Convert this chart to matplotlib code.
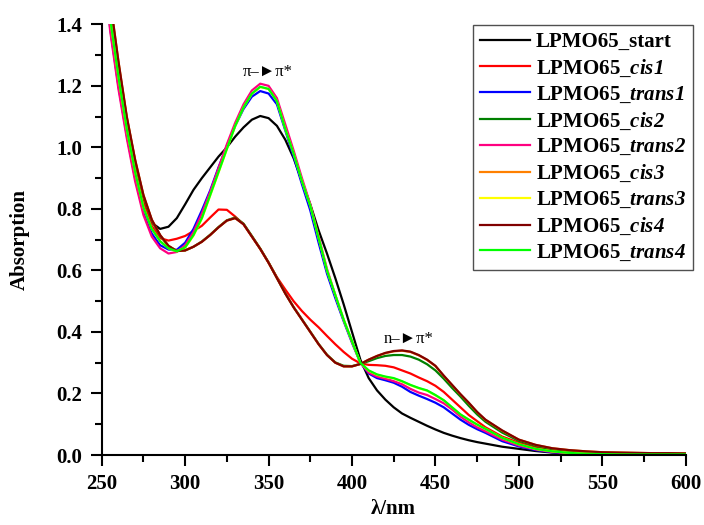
import matplotlib
matplotlib.use("Agg")
import matplotlib.pyplot as plt
from matplotlib.ticker import MultipleLocator

plt.rcParams['font.family'] = ['Liberation Serif', 'DejaVu Serif', 'DejaVu Sans']
plt.rcParams['mathtext.fontset'] = 'custom'
plt.rcParams['mathtext.it'] = 'Liberation Serif:italic:bold'
plt.rcParams['mathtext.rm'] = 'Liberation Serif:italic:bold'

# ---------------- data ----------------
wavelength = [250, 255, 260, 265, 270, 275, 280, 285, 290, 295, 300, 305, 310, 315, 320,
              325, 330, 335, 340, 345, 350, 355, 360, 365, 370, 375, 380, 385, 390, 395,
              400, 405, 410, 415, 420, 425, 430, 435, 440, 445, 450, 455, 460, 465, 470,
              475, 480, 490, 500, 510, 520, 530, 540, 550, 560, 570, 580, 590, 600]

start = [1.73, 1.44, 1.24, 1.07, 0.93, 0.82, 0.755, 0.735, 0.742, 0.77, 0.815, 0.862, 0.90, 0.935, 0.97,
         1.00, 1.035, 1.065, 1.09, 1.102, 1.095, 1.07, 1.025, 0.965, 0.89, 0.815, 0.73, 0.655, 0.575, 0.49,
         0.40, 0.31, 0.25, 0.21, 0.18, 0.155, 0.135, 0.121, 0.108, 0.095, 0.083, 0.072, 0.063, 0.055, 0.048,
         0.042, 0.037, 0.027, 0.020, 0.013, 0.008, 0.004, 0.002, 0.001, 0.001, 0.001, 0.001, 0.001, 0.001]

cis1 = [1.74, 1.45, 1.25, 1.08, 0.935, 0.82, 0.745, 0.705, 0.697, 0.703, 0.712, 0.728, 0.745, 0.772, 0.798,
        0.797, 0.775, 0.75, 0.71, 0.67, 0.625, 0.578, 0.538, 0.50, 0.468, 0.44, 0.415, 0.387, 0.36, 0.335,
        0.313, 0.298, 0.293, 0.292, 0.29, 0.285, 0.275, 0.265, 0.252, 0.24, 0.225, 0.205, 0.18, 0.155, 0.13,
        0.11, 0.09, 0.06, 0.04, 0.025, 0.015, 0.009, 0.006, 0.004, 0.003, 0.002, 0.002, 0.002, 0.002]

trans1 = [1.69, 1.39, 1.20, 1.04, 0.90, 0.79, 0.72, 0.682, 0.668, 0.667, 0.69, 0.735, 0.795, 0.86, 0.935,
          1.005, 1.07, 1.125, 1.165, 1.183, 1.175, 1.14, 1.055, 0.97, 0.88, 0.795, 0.69, 0.59, 0.51, 0.435,
          0.365, 0.30, 0.265, 0.25, 0.243, 0.235, 0.222, 0.205, 0.193, 0.182, 0.17, 0.155, 0.135, 0.115, 0.098,
          0.084, 0.072, 0.045, 0.028, 0.016, 0.009, 0.005, 0.003, 0.002, 0.001, 0.001, 0.001, 0.001, 0.001]

cis2 = [1.77, 1.47, 1.27, 1.095, 0.955, 0.84, 0.762, 0.713, 0.679, 0.663, 0.665, 0.677, 0.694, 0.716, 0.741,
        0.763, 0.772, 0.752, 0.712, 0.671, 0.626, 0.576, 0.526, 0.481, 0.441, 0.401, 0.361, 0.326, 0.301, 0.29,
        0.289, 0.296, 0.305, 0.315, 0.322, 0.325, 0.325, 0.32, 0.31, 0.295, 0.275, 0.248, 0.218, 0.19, 0.16,
        0.132, 0.108, 0.073, 0.046, 0.030, 0.019, 0.013, 0.009, 0.007, 0.006, 0.006, 0.005, 0.005, 0.005]

trans2 = [1.68, 1.38, 1.19, 1.03, 0.89, 0.78, 0.71, 0.672, 0.655, 0.66, 0.682, 0.725, 0.785, 0.855, 0.932,
          1.01, 1.08, 1.14, 1.185, 1.207, 1.20, 1.16, 1.075, 0.99, 0.90, 0.815, 0.71, 0.605, 0.52, 0.44,
          0.368, 0.30, 0.268, 0.255, 0.248, 0.24, 0.23, 0.215, 0.203, 0.195, 0.182, 0.168, 0.148, 0.125, 0.106,
          0.09, 0.077, 0.05, 0.031, 0.018, 0.010, 0.006, 0.004, 0.003, 0.002, 0.002, 0.002, 0.002, 0.002]

cis3 = [1.78, 1.48, 1.28, 1.10, 0.96, 0.845, 0.765, 0.715, 0.68, 0.663, 0.665, 0.677, 0.693, 0.715, 0.74,
        0.762, 0.77, 0.75, 0.71, 0.67, 0.625, 0.575, 0.525, 0.48, 0.44, 0.40, 0.36, 0.325, 0.30, 0.288,
        0.288, 0.296, 0.31, 0.322, 0.331, 0.337, 0.339, 0.335, 0.324, 0.309, 0.289, 0.257, 0.227, 0.197, 0.169,
        0.139, 0.114, 0.079, 0.05, 0.033, 0.022, 0.016, 0.012, 0.009, 0.008, 0.007, 0.006, 0.006, 0.005]

trans3 = [1.72, 1.42, 1.23, 1.06, 0.92, 0.805, 0.735, 0.695, 0.672, 0.662, 0.674, 0.713, 0.768, 0.843, 0.918,
          0.994, 1.069, 1.13, 1.174, 1.196, 1.19, 1.15, 1.06, 0.98, 0.89, 0.81, 0.705, 0.60, 0.52, 0.44,
          0.37, 0.30, 0.274, 0.261, 0.254, 0.249, 0.239, 0.227, 0.217, 0.209, 0.194, 0.178, 0.155, 0.132, 0.115,
          0.099, 0.085, 0.056, 0.035, 0.020, 0.012, 0.007, 0.004, 0.003, 0.002, 0.002, 0.002, 0.002, 0.002]

cis4 = [1.78, 1.48, 1.28, 1.10, 0.96, 0.845, 0.765, 0.715, 0.68, 0.663, 0.665, 0.677, 0.693, 0.715, 0.74,
        0.762, 0.77, 0.75, 0.71, 0.67, 0.625, 0.575, 0.525, 0.48, 0.44, 0.40, 0.36, 0.325, 0.30, 0.288,
        0.288, 0.296, 0.31, 0.322, 0.332, 0.338, 0.34, 0.336, 0.325, 0.31, 0.29, 0.258, 0.228, 0.198, 0.17,
        0.14, 0.115, 0.08, 0.05, 0.033, 0.022, 0.016, 0.012, 0.009, 0.008, 0.007, 0.006, 0.006, 0.005]

trans4 = [1.72, 1.42, 1.23, 1.06, 0.92, 0.805, 0.735, 0.695, 0.672, 0.662, 0.675, 0.715, 0.77, 0.845, 0.92,
          0.995, 1.07, 1.13, 1.175, 1.197, 1.19, 1.15, 1.06, 0.98, 0.89, 0.81, 0.705, 0.60, 0.52, 0.44,
          0.37, 0.30, 0.275, 0.262, 0.255, 0.25, 0.24, 0.228, 0.218, 0.21, 0.195, 0.178, 0.155, 0.132, 0.115,
          0.099, 0.085, 0.056, 0.035, 0.020, 0.012, 0.007, 0.004, 0.003, 0.002, 0.002, 0.002, 0.002, 0.002]

series_labels = ['LPMO65_start', 'LPMO65_$cis1$', 'LPMO65_$trans1$', 'LPMO65_$cis2$',
                 'LPMO65_$trans2$', 'LPMO65_$cis3$', 'LPMO65_$trans3$', 'LPMO65_$cis4$',
                 'LPMO65_$trans4$']
series_values = [start, cis1, trans1, cis2, trans2, cis3, trans3, cis4, trans4]
series_colors = ['#000000', '#ff0000', '#0000ff', '#008000', '#ff0080',
                 '#ff8000', '#ffff00', '#800000', '#00ff00']

x_ticks = [250, 300, 350, 400, 450, 500, 550, 600]
y_ticks = [0.0, 0.2, 0.4, 0.6, 0.8, 1.0, 1.2, 1.4]

# ---------------- figure ----------------
fig = plt.figure(figsize=(7.04, 5.25), dpi=100)
ax = fig.add_axes([0.1445, 0.1333, 0.8295, 0.8204])

for vals, lab, col in zip(series_values, series_labels, series_colors):
    ax.plot(wavelength, vals, color=col, lw=1.6, label=lab)

ax.set_xlim(250, 600)
ax.set_ylim(0, 1.4)
ax.set_xticks(x_ticks)
ax.set_yticks(y_ticks)
ax.set_xticklabels([str(t) for t in x_ticks])
ax.set_yticklabels([f'{t:.1f}' for t in y_ticks])
ax.xaxis.set_minor_locator(MultipleLocator(25))
ax.yaxis.set_minor_locator(MultipleLocator(0.1))

for s in ['top', 'right']:
    ax.spines[s].set_visible(False)
for s in ['left', 'bottom']:
    ax.spines[s].set_linewidth(1.5)

ax.tick_params(which='major', direction='out', length=8, width=1.5, labelsize=15, pad=6)
ax.tick_params(which='minor', direction='out', length=5, width=1.5)
for lbl in ax.get_xticklabels() + ax.get_yticklabels():
    lbl.set_fontweight('bold')

ax.set_xlabel('λ/nm', fontsize=15, fontweight='bold')
ax.set_ylabel('Absorption', fontsize=15, fontweight='bold')
ax.xaxis.set_label_coords(0.5, -0.102)
ax.yaxis.set_label_coords(-0.123, 0.5)

ax.text(349.8, 1.246, 'π\u2013\u25BAπ*', ha='center', va='center', fontsize=12,
        family=['Liberation Serif', 'DejaVu Sans'])
ax.text(434.1, 0.379, 'n\u2013\u25BAπ*', ha='center', va='center', fontsize=12,
        family=['Liberation Serif', 'DejaVu Sans'])

leg = ax.legend(loc='upper right', bbox_to_anchor=(1.012, 0.998), borderaxespad=0,
                frameon=True, fancybox=False, edgecolor='#505050', framealpha=1,
                handlelength=2.4, handletextpad=0.3, labelspacing=0.27,
                borderpad=0.33, prop={'weight': 'bold', 'size': 15})
leg.get_frame().set_linewidth(1.0)

fig.savefig('out.png', dpi=100)
